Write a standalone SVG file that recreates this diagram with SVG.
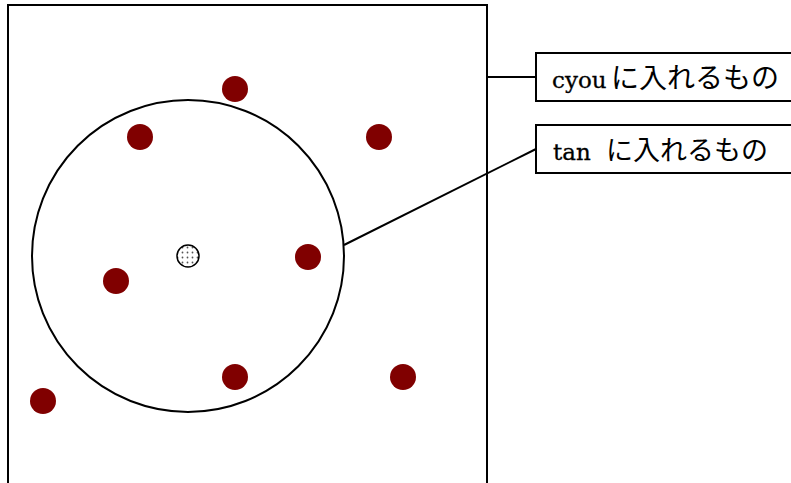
<svg xmlns="http://www.w3.org/2000/svg" width="791" height="483" viewBox="0 0 791 483">
<style>
.ln{fill:none;stroke:#000;stroke-width:2}
.dot{fill:#800000}
.lat{font-family:"DejaVu Serif","Liberation Serif",serif;font-size:23px;fill:#000;stroke:#000;stroke-width:0.3}
.jp{font-family:"Noto Sans CJK JP",sans-serif;fill:#000}
</style>
<defs>
<pattern id="stip" width="5" height="5" patternUnits="userSpaceOnUse">
<rect width="5" height="5" fill="#fff"/>
<circle cx="2.5" cy="2.5" r="0.9" fill="#555"/>
</pattern>
</defs>
<rect width="791" height="483" fill="#fff"/>
<g id="cyou"><rect class="ln" x="8" y="5" width="479" height="500"/></g>
<g id="tan"><circle class="ln" cx="188" cy="256" r="156"/></g>
<g id="center"><circle cx="188" cy="256" r="11" fill="url(#stip)" stroke="#000" stroke-width="1.5"/></g>
<g id="dots">
<circle class="dot" cx="235" cy="89" r="13"/>
<circle class="dot" cx="140" cy="137" r="13"/>
<circle class="dot" cx="379" cy="137" r="13"/>
<circle class="dot" cx="308" cy="257" r="13"/>
<circle class="dot" cx="116" cy="281" r="13"/>
<circle class="dot" cx="235" cy="377" r="13"/>
<circle class="dot" cx="403" cy="377" r="13"/>
<circle class="dot" cx="43" cy="401" r="13"/>
</g>
<g id="label-cyou">
<rect class="ln" x="536" y="53" width="300" height="48"/>
<text class="lat" x="552" y="88">cyou</text>
<text class="jp" x="611" y="88" font-size="28">に入れるもの</text>
</g>
<g id="label-tan">
<rect class="ln" x="536" y="125" width="300" height="48"/>
<text class="lat" x="553" y="160">tan</text>
<text class="jp" x="606" y="160" font-size="27">に入れるもの</text>
</g>
<g id="connectors">
<line class="ln" x1="487" y1="77" x2="536" y2="77"/>
<line class="ln" x1="344" y1="245" x2="536" y2="149"/>
</g>
</svg>
